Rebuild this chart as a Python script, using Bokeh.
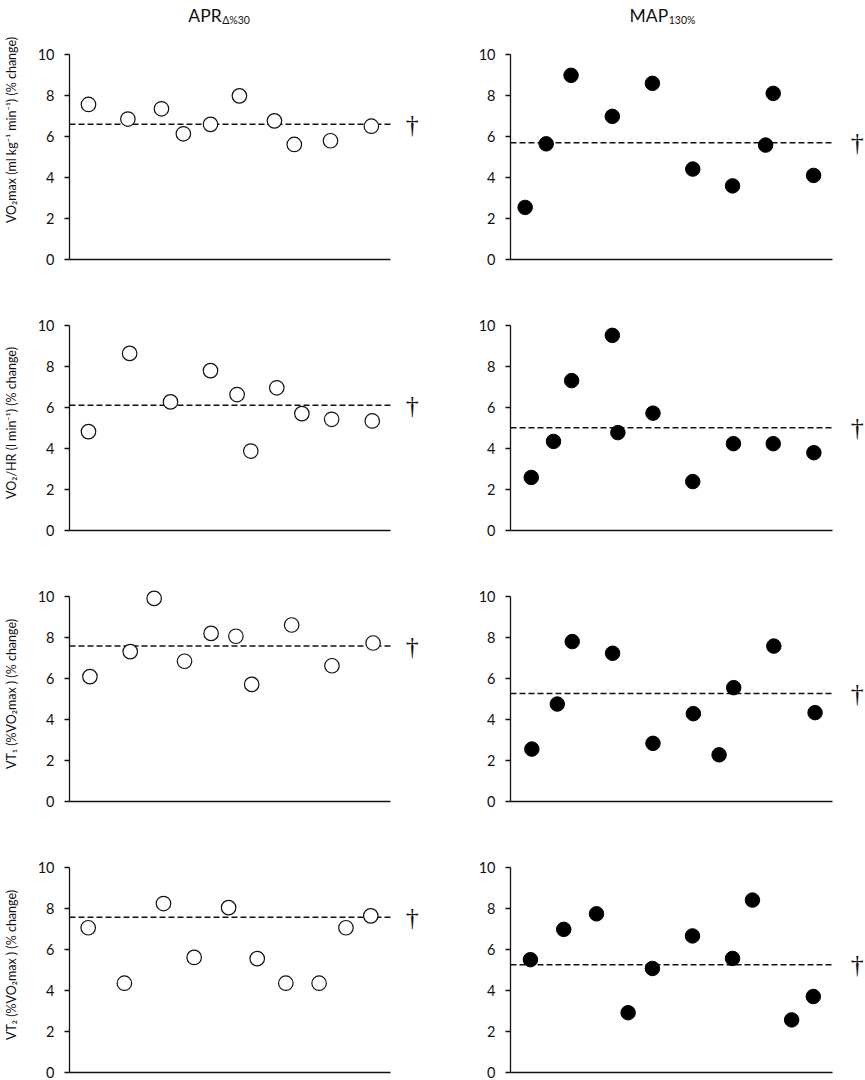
from bokeh.plotting import figure
from bokeh.layouts import column, row
from bokeh.models import Range1d, FixedTicker
from bokeh.core.properties import value
from bokeh.embed import file_html
from bokeh.resources import INLINE

# ---------------- data ----------------
col_titles_main = ["APR", "MAP"]
col_titles_sub = ["Δ%30", "130%"]
y_labels = [
    "VO₂max (ml kg⁻¹ min⁻¹) (% change)",
    "VO₂/HR (l min⁻¹) (% change)",
    "VT₁ (%VO₂max ) (% change)",
    "VT₂ (%VO₂max ) (% change)",
]
y_ticks = [0, 2, 4, 6, 8, 10]

apr_vo2max_x = [0.65, 2.00, 3.15, 3.90, 4.83, 5.82, 7.02, 7.70, 8.94, 10.34]
apr_vo2max_y = [7.56, 6.85, 7.35, 6.13, 6.59, 7.98, 6.76, 5.61, 5.79, 6.50]
apr_vo2hr_x = [0.65, 2.06, 3.46, 4.83, 5.74, 6.21, 7.10, 7.96, 8.98, 10.37]
apr_vo2hr_y = [4.83, 8.65, 6.28, 7.81, 6.64, 3.88, 6.97, 5.71, 5.43, 5.35]
apr_vt1_x = [0.70, 2.08, 2.90, 3.94, 4.85, 5.70, 6.24, 7.61, 8.99, 10.40]
apr_vt1_y = [6.10, 7.32, 9.92, 6.85, 8.21, 8.07, 5.72, 8.62, 6.63, 7.74]
apr_vt2_x = [0.64, 1.88, 3.22, 4.27, 5.45, 6.43, 7.41, 8.55, 9.47, 10.32]
apr_vt2_y = [7.07, 4.36, 8.25, 5.62, 8.05, 5.56, 4.36, 4.36, 7.07, 7.65]

map_vo2max_x = [0.50, 1.22, 2.07, 3.48, 4.85, 6.23, 7.59, 8.72, 8.98, 10.36]
map_vo2max_y = [2.54, 5.64, 8.98, 6.98, 8.59, 4.41, 3.59, 5.58, 8.10, 4.10]
map_vo2hr_x = [0.71, 1.47, 2.09, 3.48, 3.67, 4.87, 6.23, 7.62, 8.98, 10.37]
map_vo2hr_y = [2.59, 4.35, 7.32, 9.53, 4.78, 5.73, 2.39, 4.24, 4.24, 3.80]
map_vt1_x = [0.73, 1.60, 2.11, 3.49, 4.87, 6.25, 7.13, 7.63, 9.00, 10.41]
map_vt1_y = [2.56, 4.76, 7.81, 7.24, 2.84, 4.29, 2.28, 5.56, 7.59, 4.34]
map_vt2_x = [0.68, 1.82, 2.94, 4.02, 4.85, 6.22, 7.59, 8.27, 9.61, 10.35]
map_vt2_y = [5.51, 6.99, 7.75, 2.92, 5.08, 6.67, 5.57, 8.42, 2.57, 3.71]

apr_means = [6.59, 6.12, 7.59, 7.58]
map_means = [5.69, 5.02, 5.27, 5.26]

X_MIN, X_MAX = 0, 11
Y_MIN, Y_MAX = 0, 10

apr_x = [apr_vo2max_x, apr_vo2hr_x, apr_vt1_x, apr_vt2_x]
apr_y = [apr_vo2max_y, apr_vo2hr_y, apr_vt1_y, apr_vt2_y]
map_x = [map_vo2max_x, map_vo2hr_x, map_vt1_x, map_vt2_x]
map_y = [map_vo2max_y, map_vo2hr_y, map_vt1_y, map_vt2_y]

FONT = "Lato"
INK = "#111111"


def make_panel(xs, ys, mean, col, r):
    left = col == 0
    bottom = 8 if r == 3 else 12
    if r == 0:
        # taller frame so the column title sits inside it
        y_top, top, fh = 12.63, 0, 259
    else:
        y_top, top, fh = 10.5, 44, 215
    if left:
        xr = Range1d(0, 12.4)
        fw, mbl, mbr = 362, 68, 2
        dag_x = 11.74
        title_x = 5.21
    else:
        xr = Range1d(0, 12.1)
        fw, mbl, mbr = 354, 77, 0
        dag_x = 11.85
        title_x = 5.39
    p = figure(x_range=xr, y_range=Range1d(0, y_top),
               frame_width=fw, frame_height=fh,
               min_border_left=mbl, min_border_right=mbr,
               min_border_top=top, min_border_bottom=bottom,
               output_backend="svg", toolbar_location=None,
               background_fill_color="white", border_fill_color="white")
    p.outline_line_color = None
    p.xgrid.visible = False
    p.ygrid.visible = False

    # axes
    p.xaxis.bounds = (X_MIN, X_MAX)
    p.xaxis.ticker = FixedTicker(ticks=[])
    p.xaxis.major_tick_line_color = None
    p.xaxis.minor_tick_line_color = None
    p.xaxis.major_label_text_font_size = "0px"
    p.xaxis.axis_line_color = INK
    p.xaxis.axis_line_width = 1.3

    p.yaxis.bounds = (Y_MIN, Y_MAX)
    p.yaxis.ticker = FixedTicker(ticks=y_ticks)
    p.yaxis.minor_tick_line_color = None
    p.yaxis.major_tick_out = 5
    p.yaxis.major_tick_in = 0
    p.yaxis.major_tick_line_color = INK
    p.yaxis.major_tick_line_width = 1.3
    p.yaxis.axis_line_color = INK
    p.yaxis.axis_line_width = 1.3
    p.yaxis.major_label_text_font = FONT
    p.yaxis.major_label_text_font_size = "14.5px"
    p.yaxis.major_label_text_color = INK
    p.yaxis.major_label_standoff = 10
    if left:
        p.yaxis.axis_label = y_labels[r]
        p.yaxis.axis_label_text_font = FONT
        p.yaxis.axis_label_text_font_size = "12.5px"
        p.yaxis.axis_label_text_font_style = "normal"
        p.yaxis.axis_label_text_color = INK
        p.yaxis.axis_label_standoff = 16

    # mean dashed line
    p.segment(x0=[X_MIN], y0=[mean], x1=[X_MAX], y1=[mean],
              line_color=INK, line_width=1.5, line_dash="6 3")
    # dagger
    p.text(x=[dag_x], y=[mean], text=["†"], text_align="center",
           text_baseline="middle", text_font=value("Liberation Serif"),
           text_font_size="26px", text_color=INK)

    # points
    if left:
        p.scatter(xs, ys, marker="circle", size=14.5, fill_color="white",
                  line_color=INK, line_width=1.2)
    else:
        p.scatter(xs, ys, marker="circle", size=14.5, fill_color="#000000",
                  line_color="#000000", line_width=1)

    # column titles (main text + subscript)
    if r == 0:
        p.text(x=[title_x], y=[11.88], text=[col_titles_main[col]],
               text_align="right", text_baseline="alphabetic",
               text_font=value(FONT), text_font_size="17.5px", text_color=INK)
        p.text(x=[title_x + 0.02], y=[11.68], text=[col_titles_sub[col]],
               text_align="left", text_baseline="alphabetic",
               text_font=value(FONT), text_font_size="10.5px", text_color=INK)
    return p


rows = []
for r in range(4):
    a = make_panel(apr_x[r], apr_y[r], apr_means[r], 0, r)
    b = make_panel(map_x[r], map_y[r], map_means[r], 1, r)
    rows.append(row(a, b))

layout = column(*rows)
open("out.html", "w").write(file_html(layout, INLINE))
